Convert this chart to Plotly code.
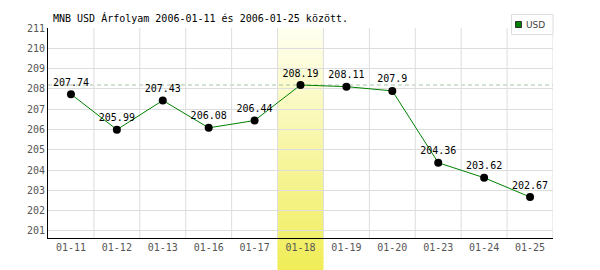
import plotly.graph_objects as go

dates = ["01-11", "01-12", "01-13", "01-16", "01-17", "01-18",
         "01-19", "01-20", "01-23", "01-24", "01-25"]
usd = [207.74, 205.99, 207.43, 206.08, 206.44, 208.19,
       208.11, 207.90, 204.36, 203.62, 202.67]
labels = ["207.74", "205.99", "207.43", "206.08", "206.44", "208.19",
          "208.11", "207.9", "204.36", "203.62", "202.67"]
highlight = "01-18"
title_text = "MNB USD Árfolyam 2006-01-11 és 2006-01-25 között."
y_ticks = list(range(201, 212))

MONO = "DejaVu Sans Mono"
L, R, T, B = 48, 47, 28, 32
W, H = 600, 270
ph = H - T - B

fig = go.Figure()
fig.add_trace(go.Scatter(
    x=list(range(len(dates))), y=usd, mode="lines+markers+text",
    text=labels, textposition="top center",
    textfont=dict(family=MONO, size=10, color="#000"),
    line=dict(color="#008000", width=1),
    marker=dict(color="#000", size=8),
    cliponaxis=False, showlegend=False,
))

shapes = []
hi = dates.index(highlight)
# gradient highlight band built from overlapping strips
top_c = (255, 255, 242)
bot_c = (240, 237, 88)
y_top_px, y_bot_px = T, H
N = 60
ov = 1.0 / ph
for i in range(N):
    p0 = y_top_px + (y_bot_px - y_top_px) * i / N
    p1 = y_top_px + (y_bot_px - y_top_px) * (i + 1) / N
    t = (i + 0.5) / N
    c = tuple(int(round(top_c[k] + (bot_c[k] - top_c[k]) * t)) for k in range(3))
    col = "rgb(%d,%d,%d)" % c
    py0 = 1 - (p1 - T) / ph
    py1 = 1 - (p0 - T) / ph
    if py0 < 0 < py1:
        shapes.append(dict(type="rect", xref="x", yref="paper", x0=hi - 0.5, x1=hi + 0.5,
                           y0=0, y1=min(1, py1 + ov), fillcolor=col,
                           line=dict(width=0), layer="between"))
        shapes.append(dict(type="rect", xref="x", yref="paper", x0=hi - 0.5, x1=hi + 0.5,
                           y0=py0 - ov, y1=0, fillcolor=col,
                           line=dict(width=0), layer="below"))
        continue
    inside = py0 >= 0
    shapes.append(dict(type="rect", xref="x", yref="paper", x0=hi - 0.5, x1=hi + 0.5,
                       y0=(py0 - ov) if not inside else max(0, py0 - ov),
                       y1=min(1, py1 + ov) if inside else min(0, py1 + ov),
                       fillcolor=col, line=dict(width=0),
                       layer="between" if inside else "below"))

# dashed max line
shapes.append(dict(type="line", xref="paper", yref="y", x0=0, x1=1,
                   y0=max(usd), y1=max(usd),
                   line=dict(color="#a8c4a8", width=1, dash="4px,3px"), layer="between"))

# legend box
lx0 = (511.5 - L) / (W - L - R)
lx1 = 1.0
ly1 = 1 + (T - 14.5) / ph
ly0 = 1 + (T - 34.5) / ph
shapes.append(dict(type="rect", xref="paper", yref="paper", x0=lx0, x1=lx1, y0=ly0, y1=ly1,
                   fillcolor="#fff", line=dict(color="#dddddd", width=1), layer="above"))
sx0 = (515.5 - L) / (W - L - R)
sx1 = (521.5 - L) / (W - L - R)
sy1 = 1 + (T - 21.5) / ph
sy0 = 1 + (T - 27.5) / ph
shapes.append(dict(type="rect", xref="paper", yref="paper", x0=sx0, x1=sx1, y0=sy0, y1=sy1,
                   fillcolor="#008000", line=dict(color="#333", width=1), layer="above"))

annotations = [dict(
    xref="paper", yref="paper", x=(523.5 - L) / (W - L - R), y=1 + (T - 24.5) / ph,
    xanchor="left", yanchor="middle", text="USD", showarrow=False,
    font=dict(family="DejaVu Sans", size=9, color="#444"),
)]

fig.update_layout(
    width=W, height=H,
    margin=dict(l=L, r=R, t=T, b=B),
    paper_bgcolor="#fff", plot_bgcolor="#fff",
    title=dict(text=title_text, x=53 / W, xanchor="left", y=1 - 18 / H, yanchor="middle",
               font=dict(family=MONO, size=10, color="#000")),
    shapes=shapes, annotations=annotations,
    xaxis=dict(
        tickmode="array", tickvals=list(range(len(dates))), ticktext=dates,
        range=[-0.5, len(dates) - 0.5],
        showgrid=False, showline=True, linecolor="#000", linewidth=1,
        ticks="", tickfont=dict(family=MONO, size=10, color="#555"),
        zeroline=False, fixedrange=True,
    ),
    yaxis=dict(
        range=[200.65, 211], tickmode="array", tickvals=y_ticks,
        showgrid=True, gridcolor="#dddddd", gridwidth=1,
        showline=True, linecolor="#000", linewidth=1,
        ticks="", tickfont=dict(family=MONO, size=10, color="#555"),
        zeroline=False, fixedrange=True,
    ),
)
# vertical grid lines at category boundaries
for b in range(1, len(dates) + 1):
    fig.add_shape(type="line", xref="x", yref="paper", x0=b - 0.5, x1=b - 0.5, y0=0, y1=1,
                  line=dict(color="#dddddd", width=1), layer="below")

fig.write_html("out.html")
